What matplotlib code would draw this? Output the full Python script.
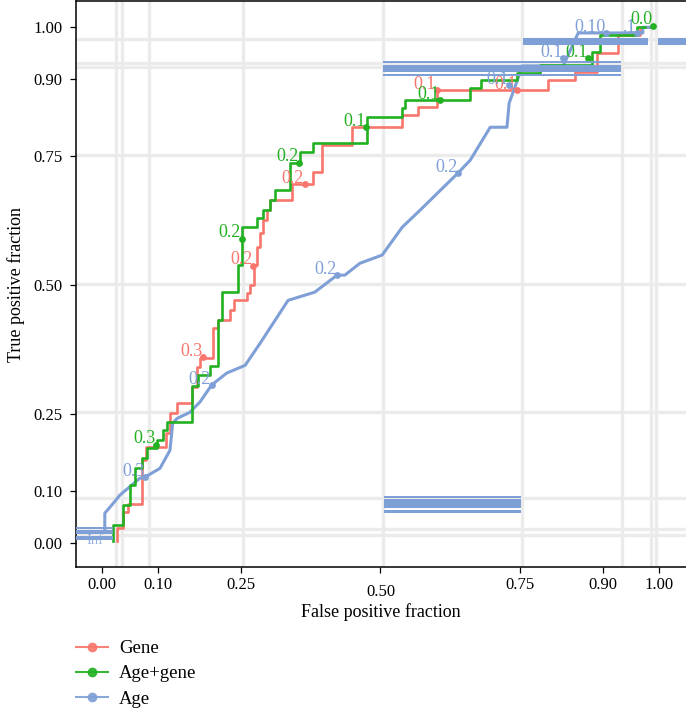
import matplotlib

matplotlib.use("Agg")

import matplotlib.pyplot as plt
import matplotlib.transforms as mtransforms
from matplotlib.lines import Line2D

plt.rcParams["font.family"] = ["Liberation Serif", "DejaVu Serif"]

# ---------- data ----------
# step ROC curves: (fpr, tpr) at the top of each riser
gene_fpr = [0.027, 0.027, 0.038, 0.047, 0.072, 0.079, 0.115, 0.122, 0.135, 0.162, 0.171, 0.176,
            0.199, 0.208, 0.230, 0.237, 0.260, 0.266, 0.273, 0.278, 0.284, 0.289, 0.296, 0.302,
            0.341, 0.379, 0.395, 0.449, 0.539, 0.567, 0.601, 0.801, 0.849, 0.889, 0.926, 0.966, 0.984]
gene_tpr = [0.003, 0.028, 0.059, 0.074, 0.160, 0.185, 0.212, 0.251, 0.271, 0.302, 0.340, 0.358,
            0.416, 0.432, 0.451, 0.471, 0.484, 0.500, 0.538, 0.573, 0.601, 0.626, 0.645, 0.665,
            0.696, 0.719, 0.772, 0.806, 0.830, 0.845, 0.878, 0.898, 0.913, 0.950, 0.985, 1.000, 1.000]

agegene_fpr = [0.020, 0.020, 0.038, 0.050, 0.059, 0.072, 0.081, 0.099, 0.110, 0.117, 0.162, 0.172,
               0.194, 0.208, 0.215, 0.244, 0.251, 0.278, 0.289, 0.302, 0.311, 0.338, 0.355, 0.379,
               0.476, 0.539, 0.544, 0.661, 0.680, 0.745, 0.786, 0.880, 0.894, 0.960, 0.975]
agegene_tpr = [0.003, 0.034, 0.073, 0.111, 0.144, 0.164, 0.183, 0.199, 0.218, 0.234, 0.304, 0.325,
               0.343, 0.432, 0.486, 0.538, 0.612, 0.630, 0.645, 0.665, 0.684, 0.737, 0.758, 0.775,
               0.826, 0.843, 0.859, 0.882, 0.898, 0.911, 0.927, 0.952, 0.985, 1.000, 1.000]

# Age curve is drawn as a plain polyline
age_fpr = [0.005, 0.005, 0.020, 0.032, 0.068, 0.077, 0.104, 0.122, 0.127, 0.135, 0.158, 0.176,
           0.197, 0.224, 0.257, 0.284, 0.334, 0.382, 0.422, 0.436, 0.463, 0.503, 0.539, 0.571,
           0.639, 0.661, 0.697, 0.727, 0.731, 0.747, 0.754, 0.828, 0.855, 0.971, 0.971, 0.984]
age_tpr = [0.024, 0.057, 0.076, 0.092, 0.125, 0.127, 0.144, 0.179, 0.232, 0.241, 0.253, 0.273,
           0.306, 0.329, 0.344, 0.387, 0.470, 0.486, 0.519, 0.519, 0.542, 0.558, 0.612, 0.645,
           0.717, 0.742, 0.806, 0.806, 0.853, 0.901, 0.925, 0.925, 0.989, 0.989, 1.000, 1.000]

# cutoff labels (dot position, text)
gene_cut_fpr = [0.181, 0.271, 0.364, 0.601, 0.745]
gene_cut_tpr = [0.360, 0.537, 0.696, 0.878, 0.878]
gene_cut_lab = ["0.3", "0.2", "0.2", "0.1", "0.1"]

agegene_cut_fpr = [0.097, 0.251, 0.354, 0.474, 0.607, 0.873, 0.990]
agegene_cut_tpr = [0.190, 0.590, 0.737, 0.806, 0.859, 0.940, 1.003]
agegene_cut_lab = ["0.3", "0.2", "0.2", "0.1", "0.1", "0.1", "0.0"]

age_cut_fpr = [0.077, 0.197, 0.422, 0.639, 0.731, 0.828, 0.905, 0.960]
age_cut_tpr = [0.127, 0.306, 0.519, 0.717, 0.888, 0.940, 0.989, 0.989]
age_cut_lab = ["0.3", "0.2", "0.2", "0.2", "0.1", "0.1", "0.10", ".1"]

# stray blue bands in the panel (x0, x1, y0, y1)
band_x0 = [0.504, 0.504, 0.504, 0.756, 0.998, 0.506, 0.506, 0.506, -0.047, -0.047, -0.047]
band_x1 = [0.932, 0.932, 0.932, 0.980, 1.060, 0.752, 0.752, 0.752, 0.020, 0.020, 0.020]
band_y0 = [0.930, 0.913, 0.905, 0.966, 0.966, 0.087, 0.067, 0.057, 0.026, 0.016, 0.005]
band_y1 = [0.934, 0.927, 0.909, 0.979, 0.979, 0.090, 0.084, 0.064, 0.030, 0.024, 0.012]

ticks = [0, 0.10, 0.25, 0.50, 0.75, 0.90, 1.00]
tick_labels = ["0.00", "0.10", "0.25", "0.50", "0.75", "0.90", "1.00"]
grid_x = [0.0257, 0.0359, 0.0849, 0.254, 0.504, 0.754, 0.9336, 0.9861, 0.9940]
grid_y = [0.9767, 0.930, 0.9235, 0.753, 0.5016, 0.253, 0.0874, 0.0272, 0.0142]

series = ["Gene", "Age+gene", "Age"]
colors = {"Gene": "#F8766D", "Age+gene": "#22B122", "Age": "#7F9FD7"}


def main() -> None:
    fig = plt.figure(figsize=(6.86, 7.09), dpi=100)
    ax = fig.add_axes([76 / 686, 142 / 709, 610 / 686, 566 / 709])
    ax.set_xlim(-0.0467, 1.0485)
    ax.set_ylim(-0.0474, 1.051)

    # grid
    for gx in grid_x:
        ax.axvline(gx, color="#EBEBEB", lw=2.4, zorder=0)
    for gy in grid_y:
        ax.axhline(gy, color="#EBEBEB", lw=2.4, zorder=0)

    # curves
    ax.plot(gene_fpr, gene_tpr, drawstyle="steps-post", color=colors["Gene"], lw=1.9, zorder=2)
    ax.plot(agegene_fpr, agegene_tpr, drawstyle="steps-post", color=colors["Age+gene"], lw=1.9, zorder=2.2)
    ax.plot(age_fpr, age_tpr, color=colors["Age"], lw=2.2, zorder=2.1)

    # cutoff dots + labels
    for name, fx, fy, labs in [("Gene", gene_cut_fpr, gene_cut_tpr, gene_cut_lab),
                               ("Age+gene", agegene_cut_fpr, agegene_cut_tpr, agegene_cut_lab),
                               ("Age", age_cut_fpr, age_cut_tpr, age_cut_lab)]:
        ax.scatter(fx, fy, s=24, color=colors[name], zorder=3, linewidths=0)
        for x, y, t in zip(fx, fy, labs):
            ax.annotate(t, (x, y), xytext=(-0.5, 1), textcoords="offset points",
                        ha="right", va="baseline", fontsize=13, color=colors[name], zorder=3)
    ax.annotate("Inf", (0.002, -0.003), xytext=(0, 0), textcoords="offset points",
                ha="right", va="baseline", fontsize=10.5, color=colors["Age"], alpha=0.8, zorder=3)

    # blue bands
    for x0, x1, y0, y1 in zip(band_x0, band_x1, band_y0, band_y1):
        ax.barh((y0 + y1) / 2, x1 - x0, height=y1 - y0, left=x0,
                color=colors["Age"], linewidth=0, zorder=4)

    # axes styling
    ax.set_xticks(ticks)
    ax.set_xticklabels(tick_labels)
    ax.set_yticks(ticks)
    ax.set_yticklabels(tick_labels)
    ax.tick_params(length=4.5, width=0.9, labelsize=12, color="black")
    ax.tick_params(axis="x", pad=3)
    ax.tick_params(axis="y", pad=5)
    for s in ["left", "bottom", "top"]:
        ax.spines[s].set_linewidth(1.1)
    ax.spines["right"].set_visible(False)
    lab = ax.get_xticklabels()[3]
    lab.set_transform(lab.get_transform() + mtransforms.ScaledTranslation(0, -0.07, fig.dpi_scale_trans))

    ax.set_xlabel("False positive fraction", fontsize=13, labelpad=2)
    ax.set_ylabel("True positive fraction", fontsize=13, labelpad=6)

    handles = [Line2D([], [], color=colors[n], lw=1.5, marker="o", markersize=6, alpha=0.9) for n in series]
    fig.legend(handles, series, loc="upper left", bbox_to_anchor=(76 / 686, 1 - 640 / 709),
               frameon=False, fontsize=13.5, handlelength=1.7, handletextpad=0.6,
               labelspacing=0.44, borderpad=0, borderaxespad=0)

    fig.savefig("out.png", dpi=100)


if __name__ == "__main__":
    main()
